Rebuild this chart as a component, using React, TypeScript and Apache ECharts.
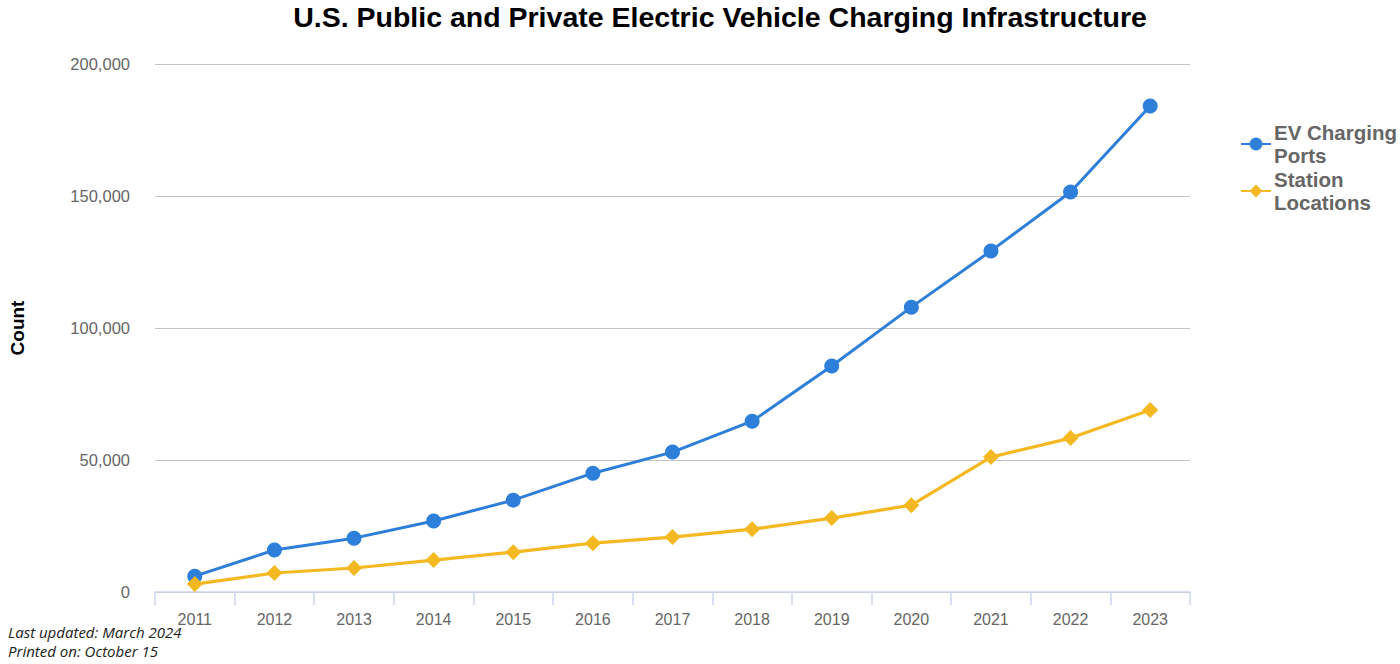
import React, { useEffect, useRef } from "react";
import * as echarts from "echarts";

const years = ["2011","2012","2013","2014","2015","2016","2017","2018","2019","2020","2021","2022","2023"];
const evPorts = [6000, 15900, 20400, 26900, 34800, 45000, 53000, 64700, 85600, 107900, 129200, 151500, 184100];
const stations = [3000, 7200, 9100, 12100, 15100, 18500, 20800, 23800, 28000, 32900, 51100, 58300, 68900];
const yTicks = [0, 50000, 100000, 150000, 200000];

export default function App() {
  const ref = useRef<HTMLDivElement>(null);
  useEffect(() => {
    document.body.style.margin = "0";
    const chart = echarts.init(ref.current!, null, { renderer: "svg" });
    chart.setOption({
      animation: false,
      backgroundColor: "#ffffff",
      textStyle: { fontFamily: "Liberation Sans, Arial, sans-serif" },
      title: {
        text: "U.S. Public and Private Electric Vehicle Charging Infrastructure",
        left: 715,
        textAlign: "center",
        top: -3,
        textStyle: { fontSize: 28.5, fontWeight: "bold", color: "#000", fontFamily: "Liberation Sans, Arial, sans-serif" },
      },
      grid: { left: 155, right: 210, top: 64, bottom: 72, containLabel: false },
      legend: {
        orient: "vertical",
        left: 1235,
        top: 116,
        itemWidth: 30,
        itemHeight: 16,
        itemGap: 1,
        formatter: (n: string) => (n === "EV Charging Ports" ? "EV Charging\nPorts" : "Station\nLocations"),
        textStyle: { fontSize: 20.5, fontWeight: "bold", color: "#666", lineHeight: 23, padding: [0, 0, 0, -2], fontFamily: "Liberation Sans, Arial, sans-serif" },
      },
      xAxis: {
        type: "category",
        data: years,
        boundaryGap: true,
        axisLine: { lineStyle: { color: "#ccd6eb", width: 1.5 } },
        axisTick: { show: true, length: 13, lineStyle: { color: "#ccd6eb", width: 1.5 } },
        axisLabel: { fontSize: 16, color: "#666", margin: 19 },
      },
      yAxis: {
        type: "value",
        min: 0,
        max: 200000,
        interval: 50000,
        name: "Count",
        nameLocation: "middle",
        nameGap: 128,
        nameTextStyle: { fontSize: 19, fontWeight: "bold", color: "#000" },
        axisLine: { show: false },
        axisTick: { show: false },
        axisLabel: {
          fontSize: 16.5,
          color: "#666",
          margin: 25,
          formatter: (v: number) => (yTicks.includes(v) ? v.toLocaleString("en-US") : ""),
        },
        splitLine: { lineStyle: { color: "#c4c4c4", width: 1.2 } },
      },
      series: [
        {
          name: "EV Charging Ports",
          type: "line",
          data: evPorts,
          symbol: "circle",
          symbolSize: 15,
          lineStyle: { width: 3, color: "#2d7fd9" },
          itemStyle: { color: "#2d7fd9" },
        },
        {
          name: "Station Locations",
          type: "line",
          data: stations,
          symbol: "diamond",
          symbolSize: 16,
          lineStyle: { width: 3.2, color: "#f4b922" },
          itemStyle: { color: "#f4b922" },
        },
      ],
      graphic: [
        {
          type: "text",
          left: 8,
          top: 624,
          style: { text: "Last updated: March 2024", fontSize: 15, fontStyle: "italic", fill: "#222", fontFamily: "Open Sans, sans-serif" },
        },
        {
          type: "text",
          left: 8,
          top: 643,
          style: { text: "Printed on: October 15", fontSize: 15, fontStyle: "italic", fill: "#222", fontFamily: "Open Sans, sans-serif" },
        },
      ],
    });
    return () => chart.dispose();
  }, []);
  return <div ref={ref} style={{ width: 1400, height: 664 }} />;
}
